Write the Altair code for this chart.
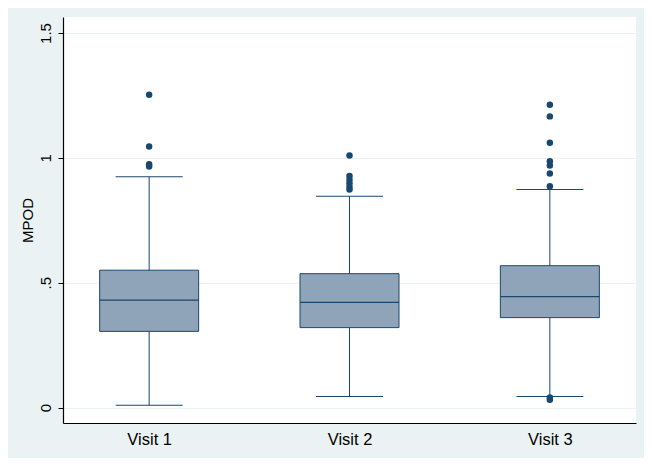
import altair as alt
import pandas as pd

visits = ["Visit 1", "Visit 2", "Visit 3"]
whisker_low = [0.009, 0.044, 0.044]
q1 = [0.305, 0.320, 0.360]
median = [0.430, 0.421, 0.444]
q3 = [0.550, 0.536, 0.568]
whisker_high = [0.924, 0.846, 0.873]
outliers_v1 = [1.253, 1.045, 0.974, 0.965]
outliers_v2 = [1.009, 0.927, 0.912, 0.898, 0.884, 0.873]
outliers_v3 = [1.213, 1.166, 1.060, 0.986, 0.969, 0.937, 0.886, 0.040, 0.031]

NAVY = "#1A476F"
FILL = "#8FA4B8"
BG = "#EAF2F3"
FONT = "Liberation Sans"

box_df = pd.DataFrame({
    "visit": visits, "lo": whisker_low, "q1": q1, "med": median,
    "q3": q3, "hi": whisker_high,
})
out_rows = []
for v, vals in zip(visits, [outliers_v1, outliers_v2, outliers_v3]):
    for val in vals:
        out_rows.append({"visit": v, "val": val})
out_df = pd.DataFrame(out_rows)

yscale = alt.Scale(domain=[-0.062, 1.564], nice=False, zero=False)
xenc = alt.X("visit:N", sort=visits, title=None,
             scale=alt.Scale(type="point", padding=0.43),
             axis=alt.Axis(labelAngle=0, ticks=False, grid=False, domainColor="black",
                           domainWidth=1.2, labelFont=FONT, labelFontSize=16.5,
                           labelColor="black", labelPadding=8))
yaxis = alt.Axis(values=[0, 0.5, 1, 1.5],
                 labelExpr="datum.value == 0.5 ? '.5' : format(datum.value, '~g')",
                 labelAngle=-90, labelAlign="center", labelBaseline="alphabetic",
                 labelFont=FONT, labelFontSize=15, labelColor="black", labelPadding=8,
                 tickSize=5, tickColor="black", domainColor="black", domainWidth=1.2,
                 grid=True, gridColor=BG, gridWidth=1,
                 title="MPOD", titleFont=FONT, titleFontSize=15, titleFontWeight="normal",
                 titleColor="black", titlePadding=3)

base = alt.Chart(box_df)
whisk = base.mark_rule(color=NAVY, strokeWidth=1).encode(
    x=xenc, y=alt.Y("lo:Q", scale=yscale, axis=yaxis), y2="hi:Q")
caps_lo = base.mark_tick(color=NAVY, size=67, thickness=1, opacity=1).encode(
    x=alt.X("visit:N", sort=visits), y=alt.Y("lo:Q"))
caps_hi = base.mark_tick(color=NAVY, size=67, thickness=1, opacity=1).encode(
    x=alt.X("visit:N", sort=visits), y=alt.Y("hi:Q"))
box = base.mark_bar(size=99, color=FILL, stroke=NAVY, strokeWidth=1).encode(
    x=alt.X("visit:N", sort=visits), y=alt.Y("q1:Q"), y2="q3:Q")
med = base.mark_tick(color=NAVY, size=99, thickness=1.2, opacity=1).encode(
    x=alt.X("visit:N", sort=visits), y=alt.Y("med:Q"))
pts = alt.Chart(out_df).mark_circle(color=NAVY, size=42, opacity=1).encode(
    x=alt.X("visit:N", sort=visits), y=alt.Y("val:Q"))

chart = alt.layer(whisk, caps_lo, caps_hi, box, med, pts).properties(
    width=573, height=406,
    autosize=alt.AutoSizeParams(type="none"),
    padding={"left": 55, "top": 9, "right": 8, "bottom": 35},
    background=BG,
).configure_view(fill="white", stroke=None)

chart.save("out.html", embed_options={"renderer": "svg", "actions": False})
